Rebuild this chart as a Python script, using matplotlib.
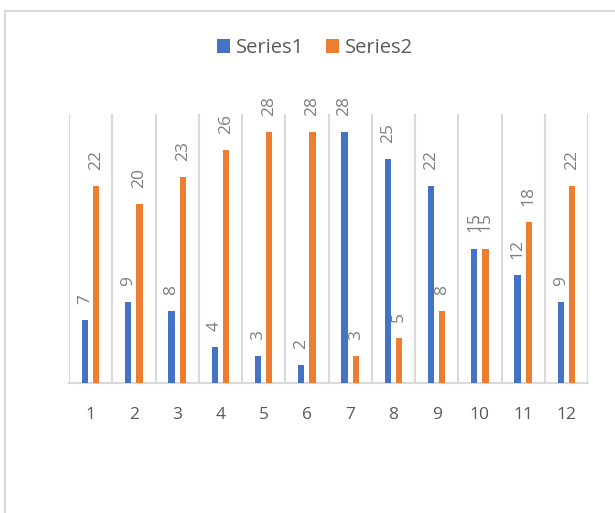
import matplotlib
matplotlib.use("Agg")
import matplotlib.pyplot as plt
from matplotlib.patches import Rectangle
import numpy as np

categories = ["1", "2", "3", "4", "5", "6", "7", "8", "9", "10", "11", "12"]
series1 = [7, 9, 8, 4, 3, 2, 28, 25, 22, 15, 12, 9]
series2 = [22, 20, 23, 26, 28, 28, 3, 5, 8, 15, 18, 22]

BLUE = "#4472C4"
ORANGE = "#ED7D31"
GRID = "#D9D9D9"
TEXT = "#595959"
LABEL = "#7F7F7F"

plt.rcParams["font.family"] = ["Open Sans", "DejaVu Sans"]

W, H = 615, 513
fig = plt.figure(figsize=(W / 100, H / 100), dpi=100)

# outer chart border
fig.patches.append(Rectangle((5 / W, -0.1), 1.2, (H - 11) / H + 0.1,
                             transform=fig.transFigure, fill=False,
                             edgecolor=GRID, linewidth=1.5, zorder=0))

ax = fig.add_axes([69 / W, 1 - 383 / H, (588 - 69) / W, (383 - 114) / H])
x = np.arange(len(categories))
bw = 0.15
off = 0.13
b1 = ax.bar(x - off, series1, bw, color=BLUE, label="Series1", zorder=3)
b2 = ax.bar(x + off, series2, bw, color=ORANGE, label="Series2", zorder=3)

for bars, vals in ((b1, series1), (b2, series2)):
    for rect, v in zip(bars, vals):
        ax.annotate(str(v), (rect.get_x() + rect.get_width() / 2, v),
                    xytext=(0, 16), textcoords="offset pixels",
                    ha="center", va="bottom", rotation=90,
                    fontsize=12.5, color=LABEL)

# category separators
for k in range(len(categories) + 1):
    ax.axvline(k - 0.5, color=GRID, linewidth=1.5, zorder=1)

ax.set_xlim(-0.5, len(categories) - 0.5)
ax.set_ylim(0, 30)
ax.set_yticks([])
for s in ("left", "right", "top"):
    ax.spines[s].set_visible(False)
ax.spines["bottom"].set_color(GRID)
ax.spines["bottom"].set_linewidth(1.5)
ax.set_xticks(x)
ax.set_xticklabels(categories, fontsize=12.5, color=TEXT)
ax.tick_params(axis="x", length=0, pad=17)

fig.legend(handles=[b1, b2], labels=["Series1", "Series2"], loc="center",
           bbox_to_anchor=(315 / W, 1 - 48 / H), ncol=2, frameon=False,
           fontsize=14.5, labelcolor=TEXT, handlelength=0.65, handleheight=0.65,
           handletextpad=0.3, columnspacing=1.1)

fig.savefig("out.png", dpi=100, facecolor="white")
